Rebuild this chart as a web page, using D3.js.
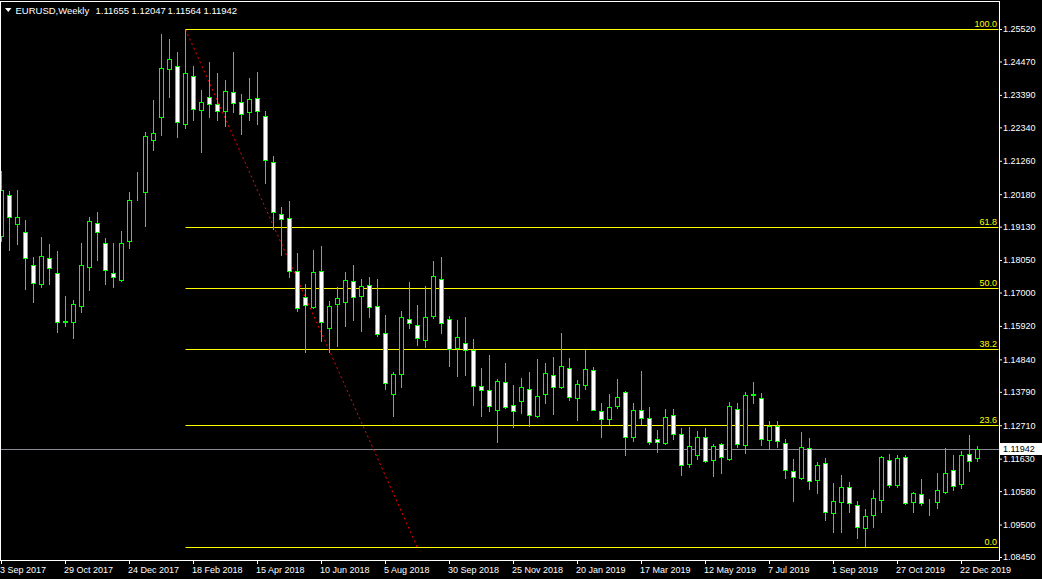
<!DOCTYPE html>
<html><head><meta charset="utf-8">
<script src="https://cdn.jsdelivr.net/npm/d3@7"></script>
<style>
html,body{margin:0;padding:0;background:#000;overflow:hidden}
svg{display:block}
text{font-family:"Liberation Sans",Arial,sans-serif;font-size:9px}
</style></head><body>
<svg id="chart" width="1042" height="579"></svg>
<script>
// ---------------- data ----------------
const symbolTitle = "EURUSD,Weekly";
const headerValues = ["1.11655", "1.12047", "1.11564", "1.11942"];
const firstWeek = "2017-09-03";
const lastWeek = "2020-01-05";

const open = [1.18815,1.20163,1.19203,1.18957,1.17890,1.17276,1.18103,1.17631,1.16060,1.16047,
1.16564,1.17825,1.19248,1.18601,1.17631,1.17405,1.18653,1.20270,1.20237,1.21918,
1.22675,1.24227,1.24324,1.22449,1.24000,1.22888,1.23322,1.23095,1.22869,1.23483,
1.23160,1.22837,1.23289,1.22707,1.21220,1.19539,1.19409,1.17696,1.16855,1.16532,
1.17696,1.15853,1.16629,1.16694,1.17373,1.16888,1.17243,1.16564,1.15691,1.13719,
1.14366,1.16144,1.15950,1.15465,1.16228,1.17437,1.16144,1.15206,1.15368,1.15142,
1.13978,1.13849,1.13212,1.14107,1.13364,1.13480,1.13881,1.12995,1.13706,1.14334,
1.13933,1.14560,1.13590,1.13997,1.14495,1.13157,1.12904,1.13325,1.13784,1.12329,
1.13202,1.12943,1.12258,1.12135,1.13040,1.12426,1.11456,1.11747,1.12329,1.11585,
1.12103,1.11605,1.13234,1.12070,1.13700,1.13590,1.12232,1.12685,1.12135,1.11230,
1.11003,1.11973,1.10939,1.11488,1.09859,1.10215,1.10712,1.10130,1.09374,1.09794,
1.10292,1.11585,1.10764,1.11682,1.10227,1.10486,1.10155,1.10215,1.10538,1.11262,
1.10796,1.11779,1.11655];
const high = [1.20916,1.20292,1.20324,1.19345,1.18149,1.18805,1.18569,1.18352,1.16897,1.16768,
1.18611,1.19452,1.19613,1.18763,1.18601,1.18999,1.20260,1.20884,1.22200,1.23234,
1.25368,1.25206,1.24763,1.25530,1.24324,1.23558,1.24463,1.24097,1.23871,1.24763,
1.23428,1.23936,1.24140,1.22879,1.21401,1.19765,1.19969,1.18278,1.17285,1.18385,
1.18514,1.16726,1.17179,1.17673,1.17900,1.17437,1.17512,1.17447,1.16283,1.14431,
1.16412,1.17350,1.16606,1.17221,1.18029,1.18158,1.16241,1.16112,1.16209,1.15507,
1.14560,1.14980,1.14204,1.14721,1.14010,1.14237,1.14431,1.14851,1.14721,1.14915,
1.15691,1.14883,1.14172,1.15151,1.14592,1.13415,1.13722,1.14204,1.13816,1.13428,
1.14463,1.13299,1.12559,1.13234,1.13234,1.12620,1.12652,1.12533,1.12620,1.12103,
1.12135,1.13461,1.13438,1.13784,1.14117,1.13739,1.12856,1.12856,1.12264,1.11627,
1.12500,1.12306,1.11521,1.11650,1.10842,1.11100,1.10874,1.10260,1.10001,1.10615,
1.11715,1.11779,1.11747,1.11747,1.10551,1.10971,1.10324,1.11175,1.11973,1.11747,
1.11876,1.12394,1.12047];
const low = [1.18653,1.18362,1.18579,1.17124,1.16681,1.17166,1.17285,1.15711,1.15905,1.15517,
1.16357,1.17091,1.18061,1.17263,1.17166,1.17360,1.18427,1.19979,1.19138,1.21618,
1.22103,1.23309,1.22028,1.22306,1.22565,1.21530,1.22662,1.22565,1.22371,1.22824,
1.22112,1.22565,1.22458,1.20541,1.19063,1.18200,1.17489,1.16412,1.15064,1.16500,
1.15420,1.15064,1.15258,1.15905,1.16099,1.15743,1.16209,1.15581,1.13868,1.12995,
1.13933,1.15840,1.15291,1.15226,1.16163,1.15678,1.14612,1.14288,1.14321,1.13351,
1.12995,1.13157,1.12154,1.13267,1.12639,1.13092,1.12672,1.12963,1.13415,1.13060,
1.13900,1.13512,1.12866,1.13868,1.13190,1.12323,1.12736,1.13267,1.11747,1.12187,
1.12759,1.12103,1.11831,1.12103,1.12264,1.11087,1.11359,1.11618,1.11530,1.11055,
1.11165,1.11585,1.12006,1.11812,1.13428,1.12070,1.11941,1.12006,1.10991,1.10247,
1.10971,1.10635,1.10506,1.09633,1.09245,1.09245,1.09891,1.09051,1.08790,1.09406,
1.09891,1.10700,1.10722,1.10150,1.09891,1.10118,1.09794,1.10021,1.10506,1.10615,
1.10667,1.11217,1.11564];
const close = [1.20324,1.19442,1.19442,1.18116,1.17295,1.18181,1.17793,1.16047,1.16075,1.16629,
1.17890,1.19312,1.18957,1.17728,1.17502,1.18601,1.19991,1.20290,1.22048,1.22158,
1.24259,1.24550,1.22513,1.24097,1.22934,1.23160,1.23095,1.22869,1.23525,1.23127,
1.22772,1.23257,1.22869,1.21285,1.19603,1.19377,1.17706,1.16500,1.16584,1.17664,
1.16047,1.16564,1.16823,1.17405,1.16855,1.17211,1.16532,1.15659,1.14075,1.14366,
1.16209,1.16015,1.15530,1.16209,1.17534,1.16015,1.15174,1.15562,1.15142,1.13978,
1.13849,1.13331,1.14127,1.13299,1.13170,1.13946,1.13040,1.13654,1.14398,1.13946,
1.14624,1.13622,1.14043,1.14528,1.13202,1.12911,1.13299,1.13622,1.12329,1.13202,
1.12943,1.12167,1.12167,1.12976,1.12426,1.11424,1.12038,1.12329,1.11553,1.12038,
1.11682,1.13331,1.12103,1.13687,1.13715,1.12264,1.12685,1.12200,1.11262,1.11036,
1.12006,1.10906,1.11424,1.09904,1.10260,1.10712,1.10182,1.09406,1.09775,1.10357,
1.11682,1.10764,1.11650,1.10182,1.10518,1.10195,1.10170,1.10615,1.11165,1.10732,
1.11747,1.11553,1.11942];

const priceTicks = [1.25520,1.24470,1.23390,1.22340,1.21260,1.20180,1.19130,1.18050,1.17000,
1.15920,1.14840,1.13790,1.12710,1.11630,1.10580,1.09500,1.08450];
const dateTickLabels = ["3 Sep 2017","29 Oct 2017","24 Dec 2017","18 Feb 2018","15 Apr 2018",
"10 Jun 2018","5 Aug 2018","30 Sep 2018","25 Nov 2018","20 Jan 2019","17 Mar 2019",
"12 May 2019","7 Jul 2019","1 Sep 2019","27 Oct 2019","22 Dec 2019"];

const fibLevels = [100, 61.8, 50, 38.2, 23.6, 0];
const fibHigh = 1.25520, fibLow = 1.08760;
const fibStartWeek = "2018-02-11";
const trendEndWeek = "2018-09-02";
const lastPrice = 1.11942;

// ---------------- drawing ----------------
const svg = d3.select("#chart");
const W = 1042, H = 579;
svg.append("rect").attr("width", W).attr("height", H).attr("fill", "#000");

const parseISO = d3.utcParse("%Y-%m-%d");
const weeks = d3.utcWeek.range(parseISO(firstWeek), d3.utcDay.offset(parseISO(lastWeek), 1));
const candles = weeks.map((d, i) => ({date: d, o: open[i], h: high[i], l: low[i], c: close[i]}));

const x = d3.scaleUtc().domain([weeks[0], weeks[weeks.length - 1]]).range([1, 977]);
const y = d3.scaleLinear().domain([1.08450, 1.25520]).range([557, 29]);
const px = v => Math.round(x(v)) + 0.5;
const py = v => Math.round(y(v)) + 0.5;

const plotRight = 999.5, plotBottom = 560.5;

// current price line (under candles)
svg.append("line")
  .attr("x1", 0).attr("x2", plotRight)
  .attr("y1", py(lastPrice)).attr("y2", py(lastPrice))
  .attr("stroke", "#8a8a94").attr("stroke-width", 1);

// fibonacci lines
const fibStartX = px(parseISO(fibStartWeek));
const fibG = svg.append("g");
fibLevels.forEach(lv => {
  const price = fibLow + (fibHigh - fibLow) * lv / 100;
  const yy = py(price);
  fibG.append("line").attr("x1", fibStartX).attr("x2", plotRight - 1)
    .attr("y1", yy).attr("y2", yy).attr("stroke", "#ffff00").attr("stroke-width", 1);
  fibG.append("text").attr("x", 997).attr("y", yy - 2.5)
    .attr("text-anchor", "end").attr("fill", "#ffff00").text(d3.format(".1f")(lv));
});

// trend line (red dotted)
svg.append("line")
  .attr("x1", fibStartX).attr("y1", py(fibHigh))
  .attr("x2", px(parseISO(trendEndWeek))).attr("y2", py(fibLow))
  .attr("stroke", "#ff0000").attr("stroke-width", 1).attr("stroke-dasharray", "2,3");

// candles
const cg = svg.append("g");
cg.selectAll("line.wick").data(candles).join("line")
  .attr("class", "wick")
  .attr("x1", d => px(d.date)).attr("x2", d => px(d.date))
  .attr("y1", d => Math.round(y(d.h))).attr("y2", d => Math.round(y(d.l)) + 1)
  .attr("stroke", "#00ff00").attr("stroke-width", 1);
cg.selectAll("rect.body").data(candles).join("rect")
  .attr("class", "body")
  .attr("x", d => px(d.date) - 2)
  .attr("width", 4)
  .attr("y", d => py(Math.max(d.o, d.c)))
  .attr("height", d => Math.max(0, py(Math.min(d.o, d.c)) - py(Math.max(d.o, d.c))))
  .attr("fill", d => d.c >= d.o ? "#000000" : "#ffffff")
  .attr("stroke", "#00ff00").attr("stroke-width", 1);

// frame
svg.append("rect").attr("x", 0.5).attr("y", 1.5)
  .attr("width", plotRight - 0.5).attr("height", plotBottom - 1.5)
  .attr("fill", "none").attr("stroke", "#ffffff").attr("stroke-width", 1);

// price axis
const yAxis = d3.axisRight(y).tickValues(priceTicks).tickFormat(d3.format(".5f"))
  .tickSize(3).tickPadding(1);
const yg = svg.append("g").attr("transform", `translate(${plotRight - 0.5},0)`).call(yAxis);
yg.select(".domain").remove();
yg.selectAll(".tick line").attr("stroke", "#fff");
yg.selectAll(".tick text").attr("fill", "#fff")
  .style("font-family", '"Liberation Sans",Arial,sans-serif').style("font-size", "9px");

// last price label
const lpY = py(lastPrice);
svg.append("rect").attr("x", 1000).attr("y", lpY - 6.5).attr("width", 42).attr("height", 12)
  .attr("fill", "#ffffff");
svg.append("text").attr("x", 1003).attr("y", lpY).attr("dy", "0.32em")
  .attr("fill", "#000").text(d3.format(".5f")(lastPrice));

// time axis
const tickDates = dateTickLabels.map(s => d3.utcParse("%d %b %Y")(s));
const xAxis = d3.axisBottom(x).tickValues(tickDates)
  .tickFormat((d, i) => dateTickLabels[i]).tickSize(4).tickPadding(3);
const xg = svg.append("g").attr("transform", `translate(0,${plotBottom - 0.5})`).call(xAxis);
xg.select(".domain").remove();
xg.selectAll(".tick line").attr("stroke", "#fff");
xg.selectAll(".tick text").attr("fill", "#fff").attr("text-anchor", "start").attr("x", -1.5)
  .style("font-family", '"Liberation Sans",Arial,sans-serif').style("font-size", "9px");

// header
svg.append("path").attr("d", "M5,8 L11.5,8 L8.25,12 Z").attr("fill", "#fff");
const header = svg.append("text").attr("y", 13.5).attr("fill", "#fff").style("font-size", "9.5px");
header.append("tspan").attr("x", 15.5).text(symbolTitle);
const hx = [95.5, 131.5, 167.5, 203.5];
headerValues.forEach((v, i) => header.append("tspan").attr("x", hx[i]).text(v));
</script>
</body></html>
